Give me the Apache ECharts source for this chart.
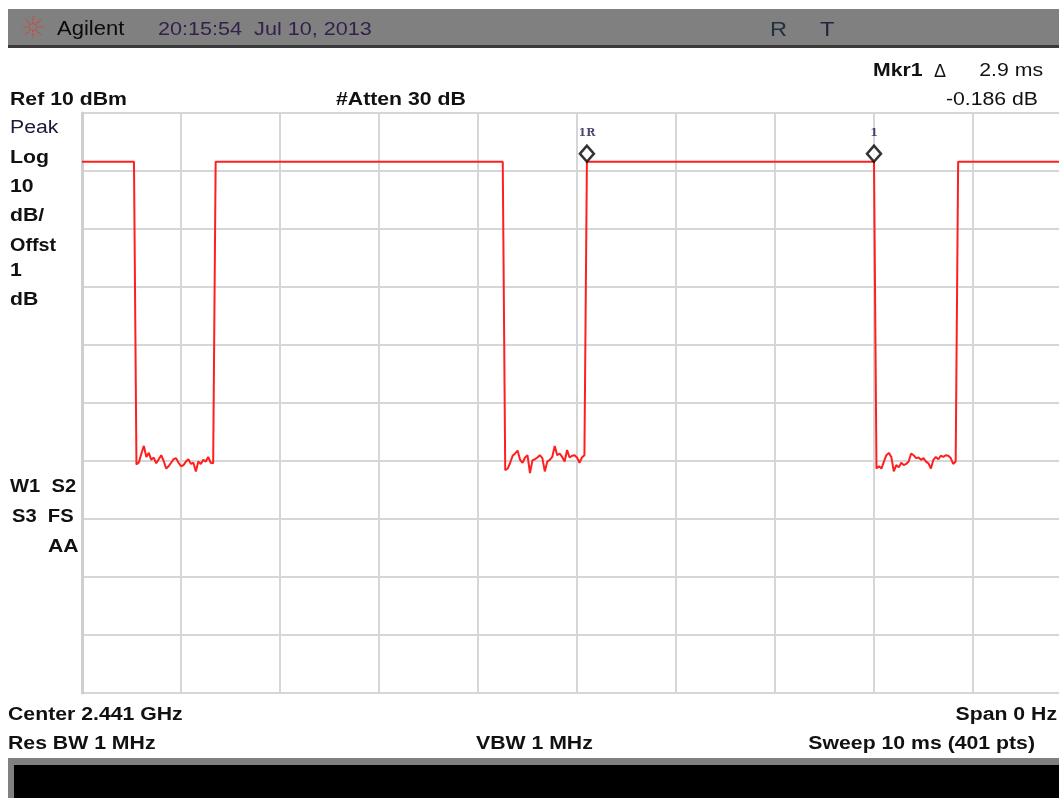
<!DOCTYPE html>
<html>
<head>
<meta charset="utf-8">
<script src="https://cdn.jsdelivr.net/npm/echarts@6/dist/echarts.min.js"></script>
<style>
html,body{margin:0;padding:0;background:#fff;}
#chart{width:1059px;height:798px;}
</style>
</head>
<body>
<div id="chart"></div>
<script>
// ---- data ----
const sweepMs = 10;            // sweep time (x axis 0..10 ms)
const sampleStepMs = 0.025;    // 401 pts over 10 ms
const refLevel = 10;           // dBm, top of screen
const dbPerDiv = 10;
const xTicks = [0,1,2,3,4,5,6,7,8,9,10];
const yTicks = [-90,-80,-70,-60,-50,-40,-30,-20,-10,0,10];
const highLevel = 1.6;         // dBm, burst-on level
const pulseFallMs = [0.525, 4.25, 8.0]; // last high sample before each gap
const gapNoise1 = [-50.6,-50.2,-48.7,-47.4,-49.3,-48.6,-49.8,-49.4,-50.4,-49.7,-49.0,-50.0,-51.3,-50.9,-50.3,-49.7,-49.5,-50.3,-50.9,-50.7,-50.1,-49.7,-50.5,-50.3,-51.8,-50.1,-50.5,-49.8,-50.1,-49.3,-50.3,-50.4];
const gapNoise2 = [-51.6,-51.3,-50.3,-49.1,-48.7,-48.2,-49.8,-50.3,-49.4,-49.0,-52.1,-49.9,-49.7,-49.4,-49.0,-49.5,-51.8,-50.1,-49.8,-49.3,-47.4,-49.0,-48.7,-49.3,-50.1,-48.1,-49.4,-49.1,-49.0,-49.4,-50.3,-49.4,-49.0];
const gapNoise3 = [-51.3,-50.9,-51.3,-50.1,-49.0,-48.6,-49.3,-51.8,-50.7,-51.1,-50.3,-50.7,-50.5,-50.1,-48.7,-49.0,-49.5,-49.4,-49.8,-49.5,-50.1,-50.4,-51.3,-49.8,-49.3,-49.7,-49.1,-49.3,-49.0,-49.1,-49.5,-50.5,-50.1];
const markerTimes = [5.1, 8.0];
const markerNames = ['1R', '1'];

// ---- build trace from data ----
const gaps = [gapNoise1, gapNoise2, gapNoise3];
const trace = [[0, highLevel]];
pulseFallMs.forEach((tf, k) => {
  trace.push([tf, highLevel]);
  const g = gaps[k];
  g.forEach((v, i) => trace.push([+(tf + (i + 1) * sampleStepMs).toFixed(3), v]));
  trace.push([+(tf + (g.length + 1) * sampleStepMs).toFixed(3), highLevel]);
});
trace.push([sweepMs, highLevel]);
const markers = markerTimes.map((t, i) => ({ value: [t, highLevel], name: markerNames[i] }));

const chart = echarts.init(document.getElementById('chart'), null, { renderer: 'canvas' });

const B = 'bold 18px "Liberation Sans", Arial, sans-serif';
const R = '18px "Liberation Sans", Arial, sans-serif';
function txt(text, x, y, font, fill, align, sx) {
  return { type: 'text', x: x, y: y + 2, scaleX: sx || 1.18,
    style: { text: text, font: font || B, fill: fill || '#111', align: align || 'left', verticalAlign: 'middle' } };
}
// logo starburst
const logo = [];
for (let a = 0; a < 8; a++) {
  const ang = a * Math.PI / 4;
  logo.push({ type: 'line', shape: { x1: 33 + Math.cos(ang) * 3, y1: 27 + Math.sin(ang) * 3, x2: 33 + Math.cos(ang) * 11, y2: 27 + Math.sin(ang) * 11 },
    style: { stroke: '#e8342a', lineWidth: 1.2, lineDash: [2, 1.5] } });
}

const graphics = [
  { type: 'rect', shape: { x: 8, y: 9, width: 1060, height: 37 }, style: { fill: '#808080' } },
  { type: 'rect', shape: { x: 8, y: 45, width: 1060, height: 3 }, style: { fill: '#3a3a3a' } },
  ...logo,
  txt('Agilent', 57, 27, '20px "Liberation Sans", Arial, sans-serif', '#0a0a0a', 'left', 1.1),
  txt('20:15:54  Jul 10, 2013', 158, 28, R, '#33214a', 'left', 1.2),
  txt('R', 770, 28, '20px "Liberation Sans", Arial, sans-serif', '#223040'),
  txt('T', 820, 28, '20px "Liberation Sans", Arial, sans-serif', '#2a1f40'),
  txt('Mkr1', 873, 69, B),
  txt('\u0394', 934, 70, R, '#111', 'left', 1),
  txt('2.9 ms', 1043, 69, R, '#111', 'right'),
  txt('-0.186 dB', 1038, 98, R, '#111', 'right'),
  txt('Ref 10 dBm', 10, 98, B),
  txt('#Atten 30 dB', 336, 98, B),
  txt('Peak', 10, 126, R, '#1a1a3a'),
  txt('Log', 10, 156, B),
  txt('10', 10, 185, B),
  txt('dB/', 10, 214, B),
  txt('Offst', 10, 244, B, '#111', 'left', 1.1),
  txt('1', 10, 269, B),
  txt('dB', 10, 298, B),
  txt('W1  S2', 10, 485, B, '#111', 'left', 1.12),
  txt('S3  FS', 12, 515, B, '#111', 'left', 1.12),
  txt('AA', 48, 545, B),
  txt('Center 2.441 GHz', 8, 713, B),
  txt('Span 0 Hz', 1057, 713, B, '#111', 'right'),
  txt('Res BW 1 MHz', 8, 742, B),
  txt('VBW 1 MHz', 476, 742, B),
  txt('Sweep 10 ms (401 pts)', 1035, 742, B, '#111', 'right'),
  { type: 'rect', shape: { x: 8, y: 758, width: 1060, height: 45 }, style: { fill: '#808080' } },
  { type: 'rect', shape: { x: 14, y: 765, width: 1060, height: 40 }, style: { fill: '#000' } }
];

chart.setOption({
  animation: false,
  backgroundColor: '#fff',
  grid: { left: 82, top: 113, width: 990, height: 580, containLabel: false, outerBoundsMode: 'none' },
  xAxis: {
    type: 'value', min: 0, max: sweepMs, interval: 1,
    axisLine: { show: false }, axisTick: { show: false }, axisLabel: { show: false },
    splitLine: { show: true, showMinLine: true, showMaxLine: true, lineStyle: { color: '#d6d6d6', width: 2 } }
  },
  yAxis: {
    type: 'value', min: refLevel - 10 * dbPerDiv, max: refLevel, interval: dbPerDiv,
    axisLine: { show: true, onZero: false, lineStyle: { color: '#cfcfcf', width: 3 } },
    axisTick: { show: false }, axisLabel: { show: false },
    splitLine: { show: true, showMinLine: true, showMaxLine: true, lineStyle: { color: '#d6d6d6', width: 2 } }
  },
  series: [
    {
      type: 'line', data: trace, showSymbol: false, symbol: 'none',
      lineStyle: { color: '#ff1f1f', width: 2 }, z: 3
    },
    {
      type: 'scatter', data: markers, symbol: 'diamond', symbolSize: [14, 16], symbolOffset: [0, -8],
      itemStyle: { color: '#fff', borderColor: '#000', borderWidth: 2.5 },
      label: { show: true, position: 'top', distance: 6, formatter: p => p.name,
        color: '#1a1a4a', fontSize: 11, fontWeight: 'bold', fontFamily: '"DejaVu Serif", serif' },
      z: 4
    }
  ],
  graphic: graphics
});
</script>
</body>
</html>
